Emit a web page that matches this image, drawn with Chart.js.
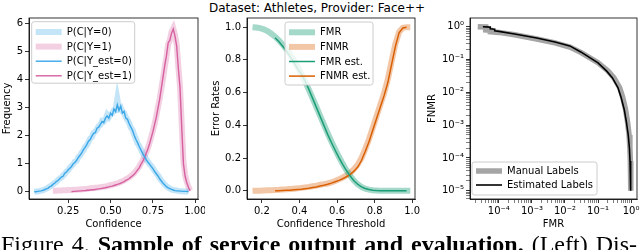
<!DOCTYPE html>
<html>
<head>
<meta charset="utf-8">
<script src="https://cdn.jsdelivr.net/npm/chart.js@4/dist/chart.umd.min.js"></script>
<style>
  body { margin: 0; width: 640px; height: 250px; background: #fff; position: relative; overflow: hidden; }
  canvas { position: absolute; top: 0; }
  #title { position: absolute; left: 0; width: 634px; top: 2px; text-align: center; font: 12px/12px 'DejaVu Sans'; color: #000; }
  #cap { position: absolute; left: 1px; top: 232px; font: 24px/24px 'Liberation Serif'; word-spacing: 2px; color: #000; white-space: nowrap; }
</style>
</head>
<body>
<div id="title">Dataset: Athletes, Provider: Face++</div>
<canvas id="c1" width="205" height="232" style="left:0px"></canvas>
<canvas id="c2" width="214" height="232" style="left:209px"></canvas>
<canvas id="c3" width="215" height="232" style="left:425px"></canvas>
<div id="cap">Figure 4. <b>Sample of service output and evaluation.</b> (Left) Dis-</div>
<script>
// ---- left panel: confidence densities ----
const confBlue = [0.05,0.06,0.07,0.08,0.09,0.10,0.11,0.12,0.13,0.14,0.15,0.16,0.17,0.18,0.19,0.20,0.21,0.22,0.23,0.24,0.25,0.26,0.27,0.28,0.29,0.30,0.31,0.32,0.33,0.34,0.35,0.36,0.37,0.38,0.39,0.40,0.41,0.42,0.43,0.44,0.45,0.46,0.47,0.48,0.49,0.50,0.51,0.52,0.53,0.54,0.55,0.56,0.57,0.58,0.59,0.60,0.61,0.62,0.63,0.64,0.65,0.66,0.67,0.68,0.69,0.70,0.71,0.72,0.73,0.74,0.75,0.76,0.77,0.78,0.79,0.80,0.81,0.82,0.83,0.84,0.85,0.86,0.87,0.88,0.89,0.90,0.91,0.92,0.93,0.94,0.95,0.96]
const blueManual = [0.00,0.01,0.01,0.02,0.04,0.05,0.08,0.10,0.14,0.18,0.21,0.26,0.31,0.35,0.42,0.47,0.50,0.58,0.63,0.72,0.76,0.86,0.92,0.98,1.07,1.10,1.24,1.28,1.40,1.47,1.60,1.66,1.78,1.90,1.95,2.10,2.14,2.22,2.34,2.38,2.52,2.50,2.58,2.74,2.66,2.76,2.80,2.90,2.92,3.30,2.96,3.00,2.86,2.80,2.66,2.55,2.45,2.28,2.20,2.02,1.88,1.72,1.62,1.50,1.38,1.28,1.16,1.08,0.99,0.92,0.84,0.74,0.66,0.58,0.48,0.40,0.32,0.25,0.19,0.15,0.11,0.08,0.06,0.05,0.04,0.03,0.02,0.02,0.01,0.01,0.01,0.00]
const blueEst = [0.00,0.00,0.01,0.02,0.03,0.05,0.07,0.10,0.12,0.17,0.20,0.26,0.30,0.36,0.40,0.46,0.52,0.55,0.66,0.70,0.78,0.84,0.90,1.00,1.04,1.12,1.22,1.30,1.38,1.50,1.58,1.68,1.80,1.86,1.98,2.08,2.10,2.26,2.30,2.40,2.50,2.46,2.62,2.70,2.62,2.80,2.72,2.95,2.85,3.10,2.90,3.05,2.80,2.86,2.62,2.58,2.42,2.30,2.18,2.00,1.86,1.74,1.60,1.48,1.36,1.26,1.14,1.06,0.98,0.90,0.82,0.72,0.64,0.56,0.46,0.38,0.30,0.24,0.18,0.14,0.11,0.08,0.06,0.04,0.03,0.03,0.02,0.02,0.01,0.01,0.01,0.00]
const confPinkManual = [0.16,0.17,0.18,0.19,0.20,0.21,0.22,0.23,0.24,0.25,0.26,0.27,0.28,0.29,0.30,0.31,0.32,0.33,0.34,0.35,0.36,0.37,0.38,0.39,0.40,0.41,0.42,0.43,0.44,0.45,0.46,0.47,0.48,0.49,0.50,0.51,0.52,0.53,0.54,0.55,0.56,0.57,0.58,0.59,0.60,0.61,0.62,0.63,0.64,0.65,0.66,0.67,0.68,0.69,0.70,0.71,0.72,0.73,0.74,0.75,0.76,0.77,0.78,0.79,0.80,0.81,0.82,0.83,0.84,0.85,0.86,0.87,0.88,0.89,0.90,0.91,0.92,0.93,0.94,0.95,0.96,0.97]
const pinkManual = [0.03,0.03,0.03,0.04,0.04,0.04,0.05,0.05,0.05,0.06,0.06,0.06,0.07,0.07,0.07,0.08,0.08,0.09,0.09,0.10,0.10,0.11,0.12,0.12,0.13,0.14,0.14,0.15,0.16,0.17,0.18,0.19,0.20,0.22,0.23,0.25,0.26,0.28,0.30,0.32,0.35,0.37,0.40,0.44,0.47,0.51,0.56,0.61,0.67,0.74,0.82,0.90,1.02,1.12,1.26,1.40,1.55,1.74,1.95,2.17,2.42,2.70,3.02,3.32,3.68,4.05,4.45,4.82,5.25,5.40,5.70,5.82,5.60,5.25,4.45,3.75,2.40,1.10,0.60,0.35,0.17,0.04]
const confPinkEst = [0.27,0.28,0.29,0.30,0.31,0.32,0.33,0.34,0.35,0.36,0.37,0.38,0.39,0.40,0.41,0.42,0.43,0.44,0.45,0.46,0.47,0.48,0.49,0.50,0.51,0.52,0.53,0.54,0.55,0.56,0.57,0.58,0.59,0.60,0.61,0.62,0.63,0.64,0.65,0.66,0.67,0.68,0.69,0.70,0.71,0.72,0.73,0.74,0.75,0.76,0.77,0.78,0.79,0.80,0.81,0.82,0.83,0.84,0.85,0.86,0.87,0.88,0.89,0.90,0.91,0.92,0.93,0.94,0.95,0.96,0.97]
const pinkEst = [0.00,0.01,0.01,0.02,0.02,0.03,0.03,0.04,0.04,0.05,0.05,0.06,0.07,0.07,0.08,0.09,0.10,0.11,0.12,0.13,0.14,0.16,0.17,0.19,0.20,0.22,0.24,0.26,0.28,0.30,0.33,0.36,0.40,0.43,0.47,0.52,0.57,0.62,0.70,0.78,0.86,0.98,1.08,1.22,1.36,1.52,1.70,1.92,2.14,2.40,2.66,2.98,3.30,3.70,4.10,4.50,4.85,5.30,5.40,5.65,5.80,5.55,5.20,4.40,3.70,2.30,1.00,0.55,0.32,0.15,0.03]
const confTicks = [0.25, 0.5, 0.75, 1.0]
const confTickLabels = ['0.25', '0.50', '0.75', '1.00']
const freqTicks = [0, 1, 2, 3, 4, 5, 6]

// ---- middle panel: error rates vs threshold ----
const thrManual = [0.15,0.17,0.19,0.21,0.23,0.25,0.27,0.29,0.31,0.33,0.35,0.37,0.39,0.41,0.43,0.45,0.47,0.49,0.51,0.53,0.55,0.57,0.59,0.61,0.63,0.65,0.67,0.69,0.71,0.73,0.75,0.77,0.79,0.81,0.83,0.85,0.87,0.89,0.91,0.93,0.95,0.97,0.99]
const fmrManual = [1.000,0.998,0.994,0.987,0.976,0.960,0.942,0.920,0.895,0.866,0.834,0.798,0.758,0.715,0.668,0.618,0.566,0.512,0.458,0.405,0.352,0.302,0.254,0.208,0.165,0.126,0.092,0.063,0.040,0.024,0.013,0.007,0.003,0.002,0.001,0,0,0,0,0,0,0,0]
const fnmrManual = [0.000,0.001,0.001,0.002,0.003,0.004,0.005,0.006,0.008,0.009,0.011,0.013,0.015,0.018,0.021,0.024,0.028,0.032,0.037,0.041,0.045,0.052,0.060,0.070,0.081,0.094,0.110,0.132,0.160,0.200,0.255,0.315,0.385,0.455,0.525,0.595,0.680,0.790,0.895,0.970,0.996,1.000,1.000]
const thrEst = [0.27,0.29,0.31,0.33,0.35,0.37,0.39,0.41,0.43,0.45,0.47,0.49,0.51,0.53,0.55,0.57,0.59,0.61,0.63,0.65,0.67,0.69,0.71,0.73,0.75,0.77,0.79,0.81,0.83,0.85,0.87,0.89,0.91,0.93,0.95,0.97]
const fmrEst = [0.935,0.912,0.885,0.855,0.820,0.785,0.745,0.715,0.670,0.620,0.565,0.510,0.455,0.400,0.345,0.295,0.248,0.203,0.162,0.124,0.090,0.062,0.040,0.024,0.014,0.008,0.004,0.002,0.001,0,0,0,0,0,0,0]
const fnmrEst = [0.000,0.001,0.002,0.003,0.004,0.006,0.008,0.010,0.013,0.016,0.020,0.024,0.029,0.034,0.040,0.047,0.055,0.064,0.074,0.086,0.100,0.120,0.145,0.185,0.240,0.300,0.370,0.440,0.510,0.580,0.660,0.770,0.880,0.965,0.995,1.000]
const thrTicks = [0.2, 0.4, 0.6, 0.8, 1.0]
const rateTicks = [0.0, 0.2, 0.4, 0.6, 0.8, 1.0]

// ---- right panel: DET curve ----
const detFmrManual = [2.3e-5,4e-5,4e-5,5.5e-5,5.5e-5,1e-4,3e-4,1.4e-3,5e-3,1.4e-2,3e-2,0.1,0.2,0.3,0.45,0.56,0.68,0.78,0.87,0.92,0.95,0.97,0.98,0.99]
const detFnmrManual = [1.0,0.98,0.8,0.78,0.7,0.67,0.57,0.42,0.32,0.24,0.165,0.08,0.045,0.028,0.014,0.0069,0.003,0.00126,0.0005,0.0002,8e-5,3e-5,1.5e-5,1e-5]
const detFmrEst = [3.3e-5,5.5e-5,5.5e-5,7.5e-5,7.5e-5,1e-4,3e-4,1.4e-3,5e-3,1.4e-2,3e-2,0.1,0.18,0.27,0.4,0.5,0.62,0.72,0.82,0.89,0.93,0.955,0.97,0.985]
const detFnmrEst = [1.0,0.97,0.86,0.84,0.75,0.72,0.6,0.45,0.34,0.26,0.17,0.079,0.045,0.028,0.014,0.0069,0.003,0.00126,0.0005,0.0002,8e-5,3e-5,1.5e-5,1e-5]
const fmrTicks = [1e-4, 1e-3, 1e-2, 1e-1, 1]
const fmrTickLabels = ['10⁻⁴', '10⁻³', '10⁻²', '10⁻¹', '10⁰']
const fnmrTicks = [1e-5, 1e-4, 1e-3, 1e-2, 1e-1, 1]
const fnmrTickLabels = ['10⁻⁵', '10⁻⁴', '10⁻³', '10⁻²', '10⁻¹', '10⁰']

const FONT = { family: 'DejaVu Sans', size: 10 }
const pts = (xs, ys) => xs.map((x, i) => ({ x, y: ys[i] }))

// frame (all four spines) + matplotlib style legend box
const framePlugin = {
  id: 'frame',
  afterDraw(chart, args, opts) {
    const { ctx, chartArea: a } = chart
    ctx.save()
    ctx.strokeStyle = '#000'; ctx.lineWidth = 0.8
    ctx.strokeRect(a.left, a.top, a.right - a.left, a.bottom - a.top)
    const lg = opts.legend
    if (lg) {
      const x = a.left + lg.x, y = a.top + lg.y
      ctx.beginPath()
      ctx.roundRect(x, y, lg.w, lg.h, 2.5)
      ctx.fillStyle = 'rgba(255,255,255,0.8)'; ctx.fill()
      ctx.strokeStyle = '#cccccc'; ctx.lineWidth = 1; ctx.stroke()
      ctx.font = '10px "DejaVu Sans"'; ctx.textBaseline = 'middle'; ctx.textAlign = 'left'
      chart.data.datasets.forEach((ds, i) => {
        const ry = y + lg.row0 + i * lg.dy
        ctx.beginPath(); ctx.moveTo(x + 4, ry); ctx.lineTo(x + 30, ry)
        ctx.strokeStyle = ds.borderColor; ctx.lineWidth = ds.borderWidth; ctx.lineCap = 'butt'; ctx.stroke()
        ctx.fillStyle = '#000'; ctx.fillText(ds.label, x + 35, ry + 0.5)
      })
    }
    ctx.restore()
  }
}

function axis(title, extra) {
  return Object.assign({
    border: { display: true, color: '#000', width: 0.8 },
    grid: { display: true, drawOnChartArea: false, drawTicks: true, tickLength: 4, color: '#000',
            lineWidth: c => (c.tick && c.tick.minor) ? 0.5 : 0.8 },
    ticks: { color: '#000', font: FONT, padding: 2, autoSkip: false, maxRotation: 0, minRotation: 0 },
    title: { display: true, text: title, color: '#000', font: FONT }
  }, extra)
}
function fixY(w) { return s => { s.width = w; s.paddingTop = 0; s.paddingBottom = 0 } }
function fixX(h) { return s => { s.height = h; s.paddingLeft = 0; s.paddingRight = 0 } }
function setTicks(vals) { return s => { s.ticks = vals.map(v => ({ value: v })) } }
function logTicks(majors, lo, hi) {
  return s => {
    const t = []
    for (let e = lo; e <= hi; e++) for (let m = 1; m <= 9; m++) {
      const v = m * Math.pow(10, e)
      if (v >= s.min && v <= s.max) t.push({ value: v, minor: m !== 1 })
    }
    s.ticks = t
  }
}

function make(id, datasets, xs, ys, legend, padRight) {
  return new Chart(document.getElementById(id), {
    type: 'line',
    data: { datasets },
    options: {
      responsive: false, animation: false, devicePixelRatio: 1,
      layout: { padding: { top: 18, right: padRight, bottom: 0, left: 0 } },
      elements: { point: { radius: 0 }, line: { tension: 0 } },
      plugins: { legend: { display: false }, tooltip: { enabled: false }, frame: { legend } },
      scales: { x: xs, y: ys }
    },
    plugins: [framePlugin]
  })
}

const xTitlePad = { top: 0, bottom: 2 }
const yTitlePad = { top: 1, bottom: 0 }

make('c1', [
  { label: 'P(C|Y=0)', data: pts(confBlue, blueManual), borderColor: 'rgba(58,167,232,0.3)', borderWidth: 6, order: 2 },
  { label: 'P(C|Y=1)', data: pts(confPinkManual, pinkManual), borderColor: 'rgba(214,96,160,0.3)', borderWidth: 6, order: 2 },
  { label: 'P(C|Y_est=0)', data: pts(confBlue, blueEst), borderColor: 'rgb(58,167,232)', borderWidth: 1.4, order: 1 },
  { label: 'P(C|Y_est=1)', data: pts(confPinkEst, pinkEst), borderColor: 'rgb(214,96,160)', borderWidth: 1.4, order: 1 }
],
  axis('Confidence', { type: 'linear', min: 0.019, max: 1.016, afterBuildTicks: setTicks(confTicks), afterFit: fixX(33),
    ticks: { color: '#000', font: FONT, padding: 2, autoSkip: false, maxRotation: 0, callback: v => confTickLabels[confTicks.indexOf(v)] } }),
  axis('Frequency', { type: 'linear', min: -0.26, max: 6.19, afterBuildTicks: setTicks(freqTicks), afterFit: fixY(29) }),
  { x: 2.7, y: 3.7, w: 103, h: 61.5, row0: 10.3, dy: 14.6 }, 7)

make('c2', [
  { label: 'FMR', data: pts(thrManual, fmrManual), borderColor: 'rgba(27,158,119,0.4)', borderWidth: 6, order: 2 },
  { label: 'FNMR', data: pts(thrManual, fnmrManual), borderColor: 'rgba(217,95,2,0.35)', borderWidth: 6, order: 2 },
  { label: 'FMR est.', data: pts(thrEst, fmrEst), borderColor: '#1b9e77', borderWidth: 1.5, order: 1 },
  { label: 'FNMR est.', data: pts(thrEst, fnmrEst), borderColor: '#d95f02', borderWidth: 1.5, order: 1 }
],
  axis('Confidence Threshold', { type: 'linear', min: 0.1206, max: 1.015, afterBuildTicks: setTicks(thrTicks), afterFit: fixX(33),
    ticks: { color: '#000', font: FONT, padding: 2, autoSkip: false, maxRotation: 0, callback: v => v.toFixed(1) } }),
  axis('Error Rates', { type: 'linear', min: -0.05, max: 1.056, afterBuildTicks: setTicks(rateTicks), afterFit: fixY(38),
    ticks: { color: '#000', font: FONT, padding: 2, autoSkip: false, callback: v => v.toFixed(1) } }),
  { x: 38, y: 4, w: 88, h: 63, row0: 10.3, dy: 14.6 }, 8)

make('c3', [
  { label: 'Manual Labels', data: pts(detFmrManual, detFnmrManual), borderColor: '#a5a5a5', borderWidth: 5.5, order: 2 },
  { label: 'Estimated Labels', data: pts(detFmrEst, detFnmrEst), borderColor: '#000', borderWidth: 1.6, order: 1 }
],
  axis('FMR', { type: 'logarithmic', min: 1.34e-5, max: 1.51, afterBuildTicks: logTicks(fmrTicks, -5, 0), afterFit: fixX(33),
    ticks: { color: '#000', font: FONT, padding: 2, autoSkip: false, maxRotation: 0, callback: v => { const i = fmrTicks.indexOf(v); return i < 0 ? '' : fmrTickLabels[i] } } }),
  axis('FNMR', { type: 'logarithmic', min: 5.6e-6, max: 1.84, afterBuildTicks: logTicks(fnmrTicks, -6, 0), afterFit: fixY(45),
    ticks: { color: '#000', font: FONT, padding: 2, autoSkip: false, callback: v => { const i = fnmrTicks.indexOf(v); return i < 0 ? '' : fnmrTickLabels[i] } } }),
  { x: 2, y: 144, w: 125, h: 33, row0: 9, dy: 14 }, 3)

// title padding per axis
Object.values(Chart.instances).forEach(ch => {
  ch.options.scales.x.title.padding = xTitlePad
  ch.options.scales.y.title.padding = yTitlePad
  ch.update()
})
</script>
</body>
</html>
